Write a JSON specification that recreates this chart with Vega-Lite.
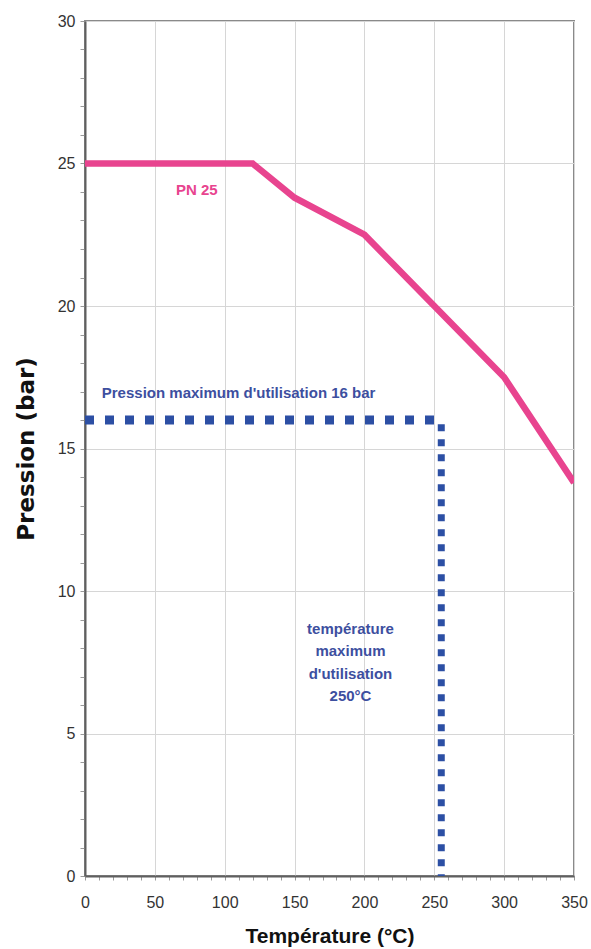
{
  "$schema": "https://vega.github.io/schema/vega-lite/v6.json",
  "description": "PN 25 pressure/temperature curve with max operating limits",
  "autosize": {"type": "none"},
  "width": 489,
  "height": 855,
  "padding": {"left": 85, "top": 21, "right": 17, "bottom": 73},
  "background": "white",
  "config": {
    "font": "Liberation Sans",
    "view": {"stroke": "#8a8a8a", "strokeWidth": 2},
    "axis": {
      "domainColor": "#5f5f5f",
      "domainWidth": 2,
      "gridColor": "#d6d6d6",
      "gridWidth": 1,
      "tickColor": "#9a9a9a",
      "labelColor": "#333333",
      "labelFont": "Liberation Sans",
      "labelFontSize": 16,
      "titleColor": "#111111",
      "titleFont": "Liberation Sans",
      "titleFontWeight": "bold"
    }
  },
  "encoding": {
    "x": {
      "field": "t",
      "type": "quantitative",
      "scale": {"domain": [0, 350], "nice": false},
      "axis": {
        "title": "Température (°C)",
        "titleFontSize": 21,
        "titlePadding": 15,
        "values": [0, 10, 20, 30, 40, 50, 60, 70, 80, 90, 100, 110, 120, 130, 140, 150, 160, 170, 180, 190, 200, 210, 220, 230, 240, 250, 260, 270, 280, 290, 300, 310, 320, 330, 340, 350],
        "labelExpr": "datum.value % 50 === 0 ? datum.label : ''",
        "gridOpacity": {"condition": {"test": "datum.value % 50 === 0", "value": 1}, "value": 0},
        "tickSize": 4,
        "labelPadding": 14,
        "labelFlush": false
      }
    },
    "y": {
      "field": "p",
      "type": "quantitative",
      "scale": {"domain": [0, 30], "nice": false},
      "axis": {
        "title": "Pression (bar)",
        "titleFont": "DejaVu Sans",
        "titleFontSize": 23,
        "titlePadding": 19,
        "values": [0, 1, 2, 3, 4, 5, 6, 7, 8, 9, 10, 11, 12, 13, 14, 15, 16, 17, 18, 19, 20, 21, 22, 23, 24, 25, 26, 27, 28, 29, 30],
        "labelExpr": "datum.value % 5 === 0 ? datum.label : ''",
        "gridOpacity": {"condition": {"test": "datum.value % 5 === 0", "value": 1}, "value": 0},
        "tickSize": 5,
        "labelPadding": 5,
        "labelFlush": false
      }
    }
  },
  "layer": [
    {
      "data": {
        "values": [
          {"t": 0, "p": 25},
          {"t": 120, "p": 25},
          {"t": 150, "p": 23.8},
          {"t": 200, "p": 22.5},
          {"t": 250, "p": 20},
          {"t": 300, "p": 17.5},
          {"t": 350, "p": 13.8}
        ]
      },
      "mark": {"type": "line", "color": "#e8448f", "strokeWidth": 6.5, "clip": true}
    },
    {
      "data": {
        "values": [
          {"t": 0, "p": 16, "i": 0},
          {"t": 250, "p": 16, "i": 1}
        ]
      },
      "mark": {"type": "line", "color": "#2c4fa4", "strokeWidth": 9, "strokeDash": [9, 11], "strokeCap": "butt"},
      "encoding": {"order": {"field": "i"}}
    },
    {
      "data": {
        "values": [
          {"t": 255, "p": 15.85, "i": 0},
          {"t": 255, "p": 0, "i": 1}
        ]
      },
      "mark": {"type": "line", "color": "#2c4fa4", "strokeWidth": 7, "strokeDash": [7, 8], "strokeCap": "butt"},
      "encoding": {"order": {"field": "i"}}
    },
    {
      "data": {"values": [{"t": 80, "p": 24.07, "label": "PN 25"}]},
      "mark": {"type": "text", "color": "#e8448f", "fontWeight": "bold", "fontSize": 15, "align": "center", "baseline": "middle"},
      "encoding": {"text": {"field": "label"}}
    },
    {
      "data": {"values": [{"t": 12, "p": 16.95, "label": "Pression maximum d'utilisation 16 bar"}]},
      "mark": {"type": "text", "color": "#3d4f9f", "fontWeight": "bold", "fontSize": 15, "align": "left", "baseline": "middle"},
      "encoding": {"text": {"field": "label"}}
    },
    {
      "data": {"values": [{"t": 190, "p": 8.67, "label": "température\nmaximum\nd'utilisation\n250°C"}]},
      "mark": {"type": "text", "color": "#3d4f9f", "fontWeight": "bold", "fontSize": 15, "align": "center", "baseline": "middle", "lineBreak": "\n", "lineHeight": 22.5},
      "encoding": {"text": {"field": "label"}}
    }
  ]
}
